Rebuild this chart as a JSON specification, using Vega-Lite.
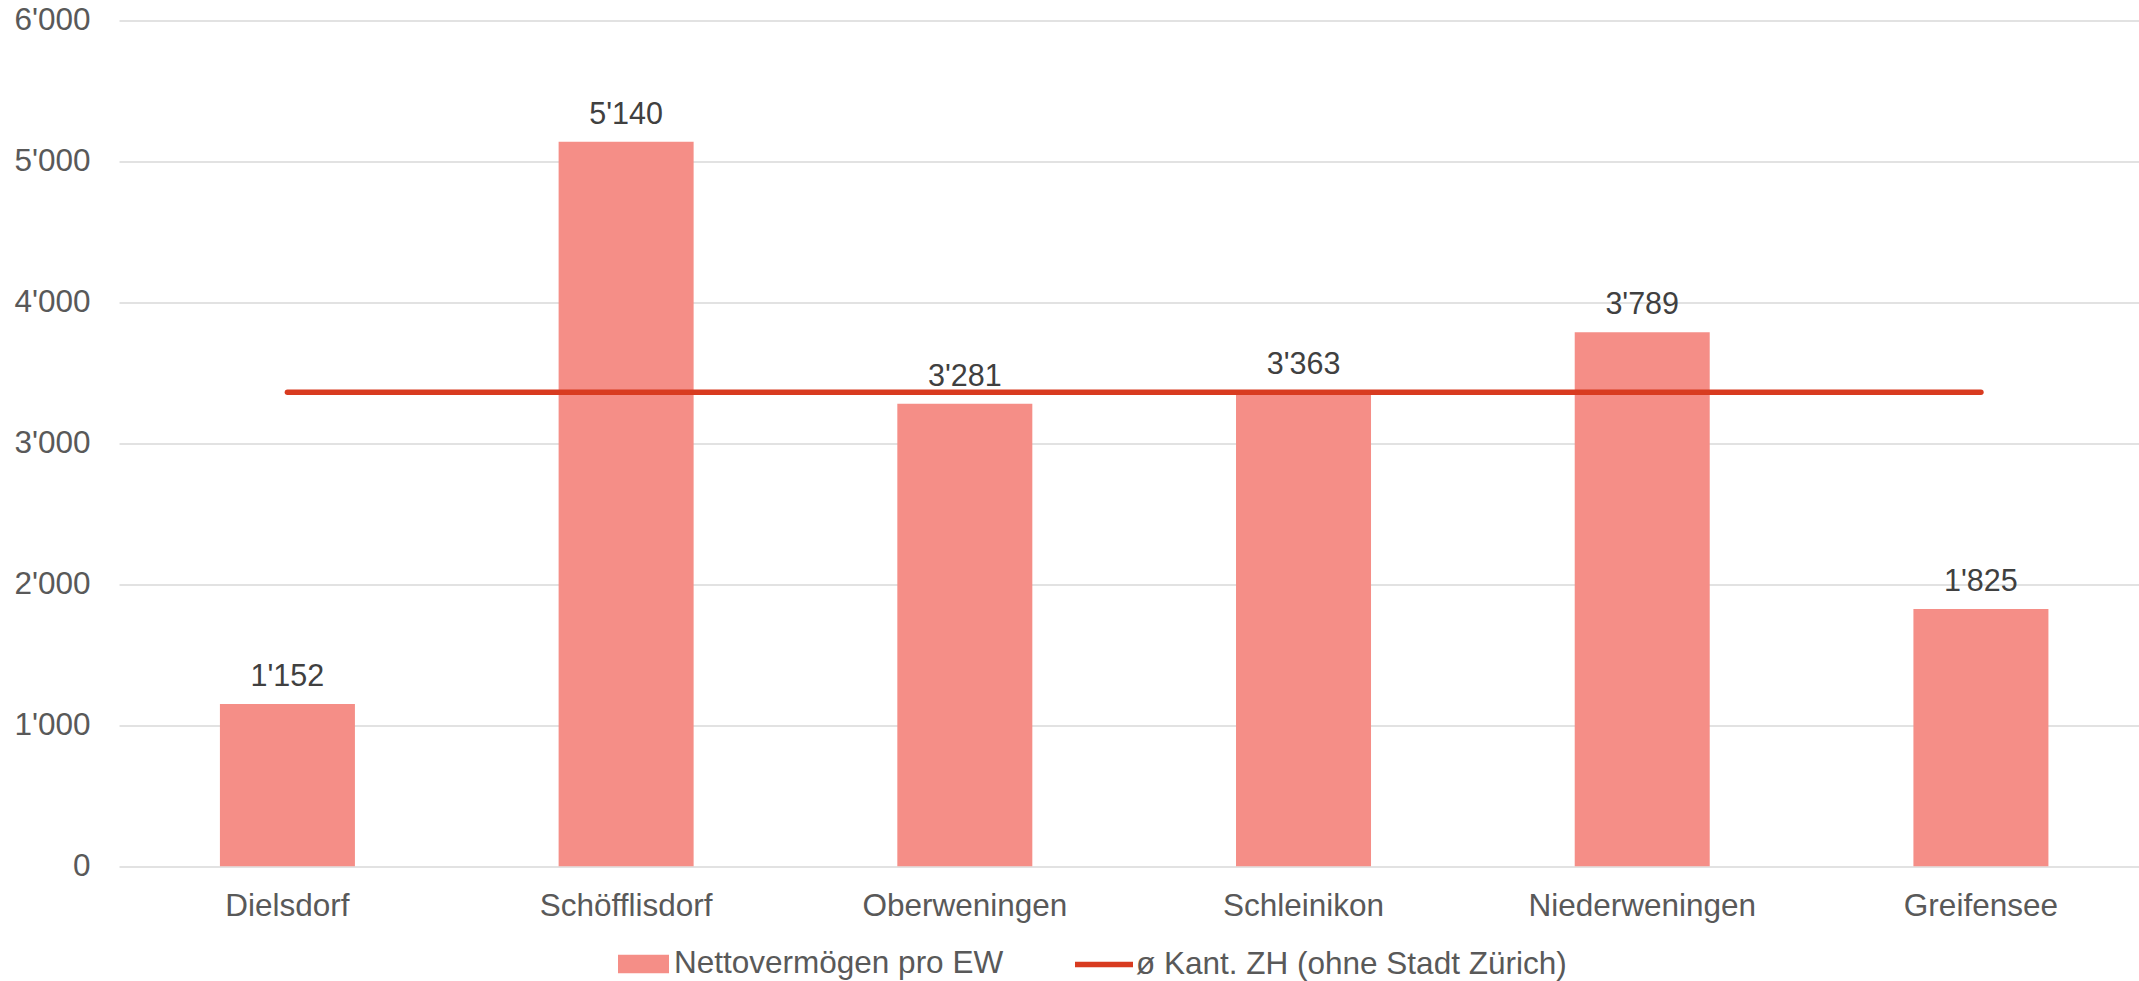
{
  "$schema": "https://vega.github.io/schema/vega-lite/v6.json",
  "autosize": {"type": "none"},
  "width": 2020,
  "height": 845.8,
  "padding": {"left": 119, "top": 20.5, "right": 0, "bottom": 114.7},
  "background": "#ffffff",
  "config": {
    "font": "Liberation Sans",
    "view": {"stroke": null},
    "locale": {"number": {"decimal": ".", "thousands": "'", "grouping": [3], "currency": ["", ""]}},
    "legend": {"padding": 0}
  },
  "data": {
    "values": [
      {"gemeinde": "Dielsdorf", "wert": 1152, "kanton": 3362},
      {"gemeinde": "Schöfflisdorf", "wert": 5140, "kanton": 3362},
      {"gemeinde": "Oberweningen", "wert": 3281, "kanton": 3362},
      {"gemeinde": "Schleinikon", "wert": 3363, "kanton": 3362},
      {"gemeinde": "Niederweningen", "wert": 3789, "kanton": 3362},
      {"gemeinde": "Greifensee", "wert": 1825, "kanton": 3362}
    ]
  },
  "encoding": {
    "x": {
      "field": "gemeinde",
      "type": "nominal",
      "sort": null,
      "scale": {"paddingInner": 0.6014, "paddingOuter": 0.2827, "align": 0.527},
      "axis": {
        "title": null,
        "labelAngle": 0,
        "ticks": false,
        "domain": false,
        "grid": false,
        "labelFontSize": 31.5,
        "labelColor": "#595959",
        "labelBaseline": "alphabetic",
        "labelPadding": 48.7,
        "labelLimit": 0
      }
    }
  },
  "layer": [
    {
      "mark": {"type": "bar"},
      "encoding": {
        "y": {
          "field": "wert",
          "type": "quantitative",
          "scale": {"domain": [0, 6000], "nice": false},
          "axis": {
            "title": null,
            "values": [0, 1000, 2000, 3000, 4000, 5000, 6000],
            "format": ",d",
            "grid": true,
            "gridColor": "#d9d9d9",
            "gridWidth": 1.6,
            "domain": false,
            "ticks": false,
            "labelFontSize": 31.5,
            "labelColor": "#595959",
            "labelPadding": 29
          }
        },
        "fill": {
          "datum": "Nettovermögen pro EW",
          "scale": {"domain": ["Nettovermögen pro EW"], "range": ["#F58E87"]},
          "legend": {
            "title": null,
            "orient": "none",
            "direction": "horizontal",
            "legendX": 499,
            "legendY": 918,
            "symbolType": "M-1,-0.36L1,-0.36L1,0.36L-1,0.36Z",
            "symbolSize": 2601,
            "symbolStrokeWidth": 0,
            "symbolOpacity": 1,
            "labelFontSize": 31.5,
            "labelColor": "#595959",
            "labelOffset": 5,
            "labelLimit": 0
          }
        }
      }
    },
    {
      "mark": {"type": "text", "baseline": "alphabetic", "dy": -18, "fontSize": 30.5, "color": "#404040"},
      "encoding": {
        "y": {"field": "wert", "type": "quantitative"},
        "text": {"field": "wert", "type": "quantitative", "format": ",d"}
      }
    },
    {
      "mark": {"type": "line", "strokeWidth": 5.5, "strokeCap": "round"},
      "encoding": {
        "y": {"field": "kanton", "type": "quantitative"},
        "stroke": {
          "datum": "ø Kant. ZH (ohne Stadt Zürich)",
          "scale": {"domain": ["ø Kant. ZH (ohne Stadt Zürich)"], "range": ["#D83B20"]},
          "legend": {
            "title": null,
            "orient": "none",
            "direction": "horizontal",
            "legendX": 953,
            "legendY": 912,
            "symbolType": "stroke",
            "symbolSize": 3364,
            "symbolStrokeWidth": 5.5,
            "symbolOpacity": 1,
            "labelFontSize": 31.5,
            "labelColor": "#595959",
            "labelOffset": 0,
            "labelLimit": 0
          }
        }
      }
    }
  ]
}
